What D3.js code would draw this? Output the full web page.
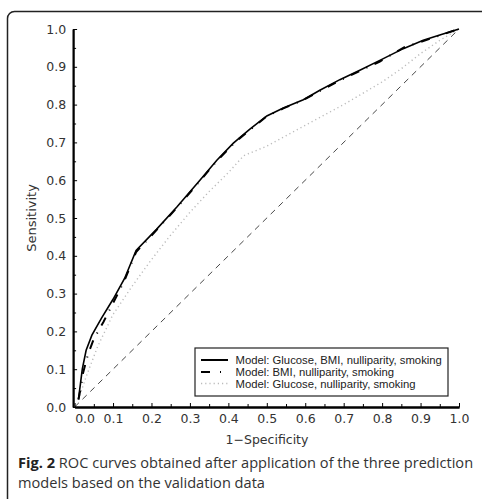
<!DOCTYPE html>
<html><head><meta charset="utf-8">
<script src="https://cdn.jsdelivr.net/npm/d3@7"></script>
<style>
body{margin:0;background:#fff;}
svg{display:block;}
</style></head>
<body>
<svg id="chart" width="482" height="499"></svg>
<script>
// ---- data ----
const xTicks = [0.0,0.1,0.2,0.3,0.4,0.5,0.6,0.7,0.8,0.9,1.0];
const yTicks = [0.0,0.1,0.2,0.3,0.4,0.5,0.6,0.7,0.8,0.9,1.0];
const minorTicks = [0.05,0.15,0.25,0.35,0.45,0.55,0.65,0.75,0.85,0.95];

const seriesNames = [
  "Model: Glucose, BMI, nulliparity, smoking",
  "Model: BMI, nulliparity, smoking",
  "Model: Glucose, nulliparity, smoking"
];

const fullX = [0.01,0.015,0.02,0.03,0.045,0.07,0.10,0.13,0.16,0.213,0.266,0.326,0.37,0.413,0.456,0.5,0.543,0.595,0.638,0.69,0.742,0.794,0.855,0.907,0.95,1.0];
const fullY = [0.02,0.06,0.10,0.15,0.19,0.235,0.285,0.34,0.414,0.47,0.529,0.6,0.653,0.698,0.735,0.77,0.791,0.813,0.838,0.866,0.891,0.917,0.948,0.970,0.984,1.0];

const bmiX = [0.01,0.016,0.022,0.035,0.05,0.075,0.10,0.13,0.16,0.213,0.266,0.326,0.37,0.42,0.456,0.5,0.543,0.595,0.638,0.69,0.742,0.794,0.86,0.907,0.95,1.0];
const bmiY = [0.02,0.05,0.09,0.14,0.18,0.225,0.275,0.335,0.41,0.468,0.527,0.598,0.651,0.703,0.733,0.769,0.79,0.812,0.836,0.864,0.889,0.914,0.953,0.968,0.983,1.0];

const gluX = [0.01,0.03,0.06,0.10,0.15,0.20,0.25,0.30,0.35,0.40,0.44,0.50,0.60,0.70,0.80,0.85,0.90,0.95,1.0];
const gluY = [0.02,0.08,0.16,0.245,0.32,0.39,0.455,0.515,0.57,0.62,0.665,0.69,0.745,0.80,0.86,0.895,0.935,0.97,1.0];

// ---- layout ----
const svg = d3.select("#chart");
const x = d3.scaleLinear().domain([0,1]).range([74.6,459]);
const y = d3.scaleLinear().domain([0,1]).range([407,29]);

// outer frame (rounded top-left, continues beyond the view)
svg.append("rect")
  .attr("x",7.5).attr("y",11.5).attr("width",500).attr("height",520)
  .attr("rx",7).attr("ry",7)
  .attr("fill","none").attr("stroke","#222").attr("stroke-width",1.5);

const g = svg.append("g");

// diagonal reference
g.append("line")
  .attr("x1",x(0)).attr("y1",y(0)).attr("x2",x(1)).attr("y2",y(1))
  .attr("stroke","#333").attr("stroke-width",0.9).attr("stroke-dasharray","6,5");

const line = d3.line().x(d=>x(d[0])).y(d=>y(d[1]));
const zipped = (xs,ys)=>xs.map((v,i)=>[v,ys[i]]);

g.append("path").datum(zipped(gluX,gluY)).attr("d",line)
  .attr("fill","none").attr("stroke","#bbb").attr("stroke-width",1.4).attr("stroke-dasharray","1.2,3");
g.append("path").datum(zipped(bmiX,bmiY)).attr("d",line)
  .attr("fill","none").attr("stroke","#000").attr("stroke-width",2).attr("stroke-dasharray","9,8,1,8");
g.append("path").datum(zipped(fullX,fullY)).attr("d",line)
  .attr("fill","none").attr("stroke","#000").attr("stroke-width",1.6);

// axes
const fmt = d3.format(".1f");
const tickFont = "'DejaVu Sans', sans-serif";
const xAxis = svg.append("g").attr("transform",`translate(0,${y(0)})`)
  .call(d3.axisBottom(x).tickValues(xTicks).tickFormat(fmt).tickSizeInner(-4).tickSizeOuter(0).tickPadding(7));
const xMinor = svg.append("g").attr("transform",`translate(0,${y(0)})`)
  .call(d3.axisBottom(x).tickValues(minorTicks).tickFormat("").tickSizeInner(-3).tickSizeOuter(0));
const yAxis = svg.append("g").attr("transform",`translate(${x(0)-1.5},0)`)
  .call(d3.axisLeft(y).tickValues(yTicks).tickFormat(fmt).tickSizeInner(-4).tickSizeOuter(0).tickPadding(7));
const yMinor = svg.append("g").attr("transform",`translate(${x(0)-1.5},0)`)
  .call(d3.axisLeft(y).tickValues(minorTicks).tickFormat("").tickSizeInner(-3).tickSizeOuter(0));

[xAxis,yAxis,xMinor,yMinor].forEach(a=>{
  a.select(".domain").attr("stroke","#000").attr("stroke-width",1.8);
  a.selectAll(".tick line").attr("stroke","#000").attr("stroke-width",1);
  a.selectAll("text").attr("font-family",tickFont)
    .attr("font-size",12.5).attr("fill","#333");
});
// first x label nudged right, as in the reference
xAxis.selectAll(".tick text").filter(d=>d===0).attr("dx",10);

// axis titles
svg.append("text").attr("x",267).attr("y",444).attr("text-anchor","middle")
  .attr("font-family",tickFont).attr("font-size",12.5).attr("fill","#333")
  .text("1\u2212Specificity");
svg.append("text").attr("transform","translate(36,218) rotate(-90)").attr("text-anchor","middle")
  .attr("font-family",tickFont).attr("font-size",13).attr("fill","#333")
  .text("Sensitivity");

// legend
const leg = svg.append("g");
leg.append("rect").attr("x",195).attr("y",348).attr("width",253).attr("height",48)
  .attr("fill","#fff").attr("stroke","#222").attr("stroke-width",1.2);
const styles = [
  {stroke:"#000",w:2,dash:null},
  {stroke:"#000",w:2.2,dash:"9,10,1,8"},
  {stroke:"#bbb",w:1.4,dash:"1.2,3"}
];
const rowY = [360,372,383.5];
seriesNames.forEach((name,i)=>{
  leg.append("line").attr("x1",201).attr("x2",228).attr("y1",rowY[i]).attr("y2",rowY[i])
    .attr("stroke",styles[i].stroke).attr("stroke-width",styles[i].w)
    .attr("stroke-dasharray",styles[i].dash);
  leg.append("text").attr("x",235.5).attr("y",rowY[i]+4)
    .attr("font-family","'Liberation Sans', Arial, sans-serif").attr("font-size",11.3).attr("fill","#222")
    .text(name);
});

// caption
const capFont = "'Open Sans', sans-serif";
const cap = svg.append("text").attr("x",18).attr("y",468)
  .attr("font-family",capFont).attr("font-size",14.6).attr("fill","#333");
cap.append("tspan").attr("font-weight","bold").attr("fill","#222").text("Fig. 2");
cap.append("tspan").text(" ROC curves obtained after application of the three prediction");
svg.append("text").attr("x",18).attr("y",488)
  .attr("font-family",capFont).attr("font-size",14.6).attr("fill","#333")
  .text("models based on the validation data");
</script>
</body></html>
